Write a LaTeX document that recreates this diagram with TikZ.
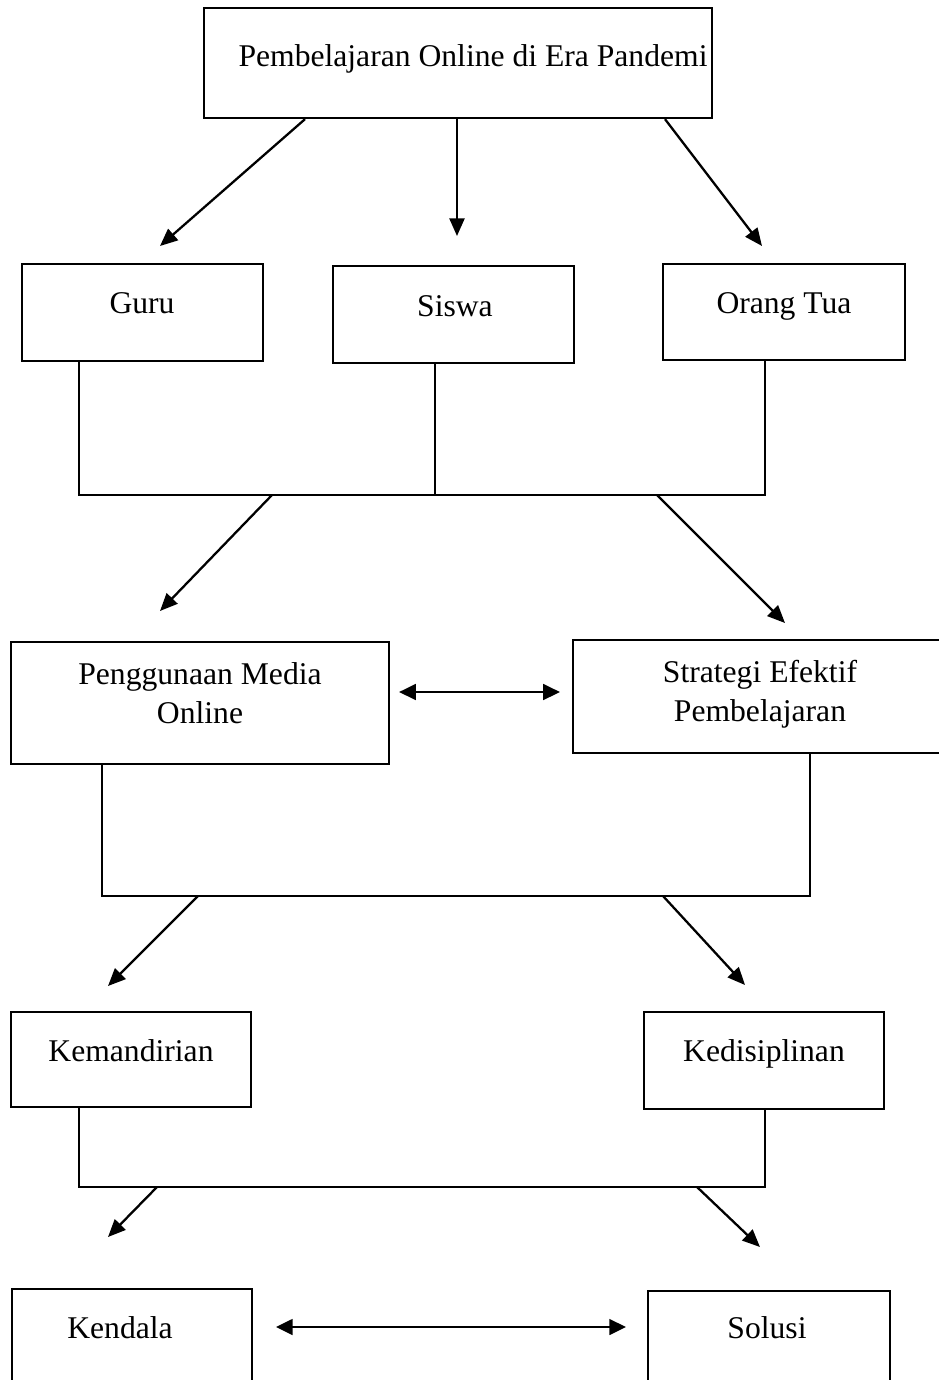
\documentclass[tikz,border=0pt]{standalone}
\usepackage{fontspec}
\setmainfont{Liberation Serif}
\usetikzlibrary{arrows.meta,positioning,calc,fit}

\begin{document}
\begin{tikzpicture}[
x=0.02cm, y=-0.02cm,
box/.style={draw=black, line width=1.3pt, inner sep=0pt, fit={#1}},
txt/.style={anchor=base, align=center, inner sep=0pt, font=\fontsize{18}{22}\selectfont},
link/.style={draw=black, line width=1.3pt},
arr/.style={link, -{Triangle[length=10pt,width=8.5pt]}},
darr/.style={link, {Triangle[length=9.5pt,width=9pt]}-{Triangle[length=9.5pt,width=9pt]}}
]
\useasboundingbox (0,0) rectangle (939,1380);

% ================= TOP =================
\node[box={(204,8) (712,118)}] (top) {};
\node[txt] (top-t) at (473,66) {Pembelajaran Online di Era Pandemi};

% ================= ROW 1 =================
\node[box={(22,264) (263,361)}] (guru) {};
\node[txt] (guru-t) at (142,313) {Guru};
\node[box={(333,266) (574,363)}] (siswa) {};
\node[txt] (siswa-t) at (455,316) {Siswa};
\node[box={(663,264) (905,360)}] (ortu) {};
\node[txt] (ortu-t) at (784,313) {Orang Tua};

\coordinate (guru-in) at (160,246);
\coordinate (siswa-in) at (457,236);
\coordinate (ortu-in) at (762,246);
\draw[arr] (top.south -| 305,0) -- (guru-in);
\draw[arr] (top.south -| 457,0) -- (siswa-in);
\draw[arr] (top.south -| 665,0) -- (ortu-in);

\coordinate (bar1) at (435,495);
\draw[link] (guru.south -| 79,0) |- (bar1) -| (ortu.south -| 765,0);
\draw[link, line width=0.6pt] (siswa.south -| bar1) -- (bar1);

% ================= ROW 2 =================
\node[box={(11,642) (389,764)}] (media) {};
\node[txt] (media-t) at (200,723) {Penggunaan Media\\Online};
\node[box={(573,640) (960,753)}] (strat) {};
\node[txt] (strat-t) at (760,721) {Strategi Efektif\\Pembelajaran};

\coordinate (media-in) at (160,611);
\coordinate (strat-in) at (785,623);
\draw[arr] (bar1 -| 272,0) -- (media-in);
\draw[arr] (bar1 -| 657,0) -- (strat-in);

\coordinate (mid2) at (480,692);
\draw[darr, shorten <=5.1pt, shorten >=6.8pt] (media.east |- mid2) -- (strat.west |- mid2);

\coordinate (bar2) at (456,896);
\draw[link] (media.south -| 102,0) |- (bar2) -| (strat.south -| 810,0);

% ================= ROW 3 =================
\node[box={(11,1012) (251,1107)}] (mandiri) {};
\node[txt] (mandiri-t) at (131,1061) {Kemandirian};
\node[box={(644,1012) (884,1109)}] (disiplin) {};
\node[txt] (disiplin-t) at (764,1061) {Kedisiplinan};

\coordinate (mandiri-in) at (108,986);
\coordinate (disiplin-in) at (745,985);
\draw[arr] (bar2 -| 198,0) -- (mandiri-in);
\draw[arr] (bar2 -| 663,0) -- (disiplin-in);

\coordinate (bar3) at (420,1187);
\draw[link] (mandiri.south -| 79,0) |- (bar3) -| (disiplin.south -| 765,0);

% ================= ROW 4 =================
\node[box={(12,1289) (252,1400)}] (kendala) {};
\node[txt] (kendala-t) at (120,1338) {Kendala};
\node[box={(648,1291) (890,1400)}] (solusi) {};
\node[txt] (solusi-t) at (767,1338) {Solusi};

\coordinate (kendala-in) at (108,1237);
\coordinate (solusi-in) at (760,1247);
\draw[arr] (bar3 -| 157,0) -- (kendala-in);
\draw[arr] (bar3 -| 697,0) -- (solusi-in);

\coordinate (mid4) at (450,1327);
\draw[darr, shorten <=13pt, shorten >=11.9pt] (kendala.east |- mid4) -- (solusi.west |- mid4);

\end{tikzpicture}
\end{document}
